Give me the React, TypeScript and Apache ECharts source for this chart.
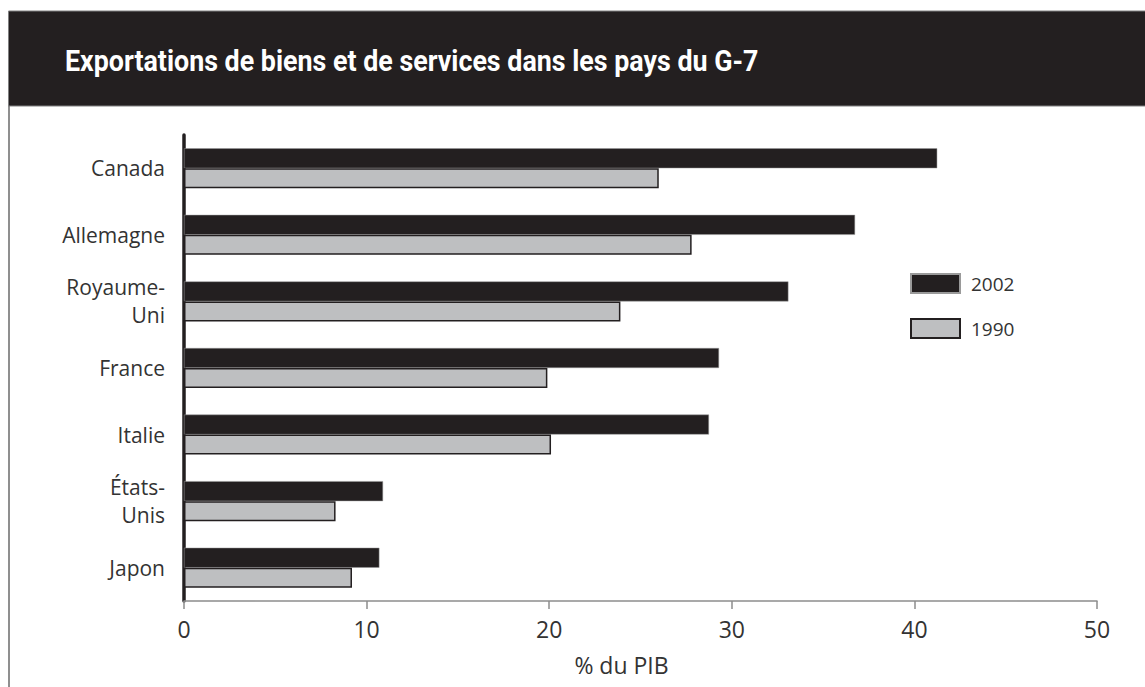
import React, { useEffect, useRef } from "react";
import * as echarts from "echarts";

const TITLE = "Exportations de biens et de services dans les pays du G-7";
const categories = ["Canada", "Allemagne", "Royaume-\nUni", "France", "Italie", "États-\nUnis", "Japon"];
const values2002 = [41.25, 36.75, 33.1, 29.3, 28.75, 10.9, 10.7];
const values1990 = [26.0, 27.8, 23.9, 19.9, 20.1, 8.3, 9.2];
const seriesNames = ["2002", "1990"];
const xTicks = { min: 0, max: 50, interval: 10 };
const axisName = "% du PIB";

const LABEL_FONT = "'Open Sans', 'Noto Sans', sans-serif";
const TITLE_FONT = "Roboto, 'Noto Sans', sans-serif";
const DARK = "#231f20";
const LIGHT = "#bebfc1";

export default function App() {
  const ref = useRef<HTMLDivElement>(null);
  useEffect(() => {
    if (!ref.current) return;
    const chart = echarts.init(ref.current, undefined, { renderer: "svg" });
    chart.setOption({
      animation: false,
      backgroundColor: "#ffffff",
      graphic: [
        {
          type: "rect",
          z: 1,
          shape: { x: 8.5, y: 11, width: 1140, height: 95 },
          style: { fill: DARK, stroke: "#808080", lineWidth: 1 },
        },
        {
          type: "line",
          z: 1,
          shape: { x1: 9, y1: 106, x2: 9, y2: 690 },
          style: { stroke: "#6a6a6a", lineWidth: 1.5 },
        },
        {
          type: "text",
          z: 10,
          x: 65,
          y: 61,
          scaleX: 0.925,
          style: {
            text: TITLE,
            fontFamily: TITLE_FONT,
            fontSize: 29,
            fontWeight: "bold",
            fill: "#ffffff",
            textVerticalAlign: "middle",
            verticalAlign: "middle",
          },
        },
      ],
      legend: {
        orient: "vertical",
        left: 910,
        top: 273,
        itemWidth: 49,
        itemHeight: 19,
        itemGap: 24,
        padding: 0,
        icon: "rect",
        data: seriesNames,
        textStyle: { fontFamily: LABEL_FONT, fontSize: 19, color: "#333333", padding: [0, 0, 0, 6] },
      },
      grid: { left: 184, right: 48, top: 135, bottom: 86, containLabel: false },
      xAxis: {
        type: "value",
        min: xTicks.min,
        max: xTicks.max,
        interval: xTicks.interval,
        name: axisName,
        nameLocation: "middle",
        nameGap: 52,
        nameTextStyle: { fontFamily: LABEL_FONT, fontSize: 23, color: "#333333", padding: [0, 38, 0, 0] },
        axisLine: { show: true, lineStyle: { color: "#8c8c8c", width: 1.5 } },
        axisTick: { show: true, length: 8, lineStyle: { color: "#8c8c8c", width: 1.5 } },
        axisLabel: { margin: 16, fontFamily: LABEL_FONT, fontSize: 23, color: "#333333" },
        splitLine: { show: false },
      },
      yAxis: {
        type: "category",
        data: categories,
        inverse: true,
        axisLine: { show: true, lineStyle: { color: DARK, width: 3.5 } },
        axisTick: { show: false },
        axisLabel: {
          margin: 19,
          fontFamily: LABEL_FONT,
          fontSize: 21,
          lineHeight: 28,
          color: "#333333",
          align: "right",
        },
        splitLine: { show: false },
      },
      series: [
        {
          name: seriesNames[0],
          type: "bar",
          data: values2002,
          barWidth: 20,
          barGap: "0%",
          itemStyle: { color: DARK, borderColor: "#9a9a9a", borderWidth: 0.5 },
        },
        {
          name: seriesNames[1],
          type: "bar",
          data: values1990,
          barWidth: 20,
          barGap: "0%",
          itemStyle: { color: LIGHT, borderColor: DARK, borderWidth: 1.5 },
        },
      ],
    });
    return () => chart.dispose();
  }, []);
  return (
    <div
      ref={ref}
      style={{ position: "absolute", left: 0, top: 0, width: 1145, height: 687 }}
    />
  );
}
